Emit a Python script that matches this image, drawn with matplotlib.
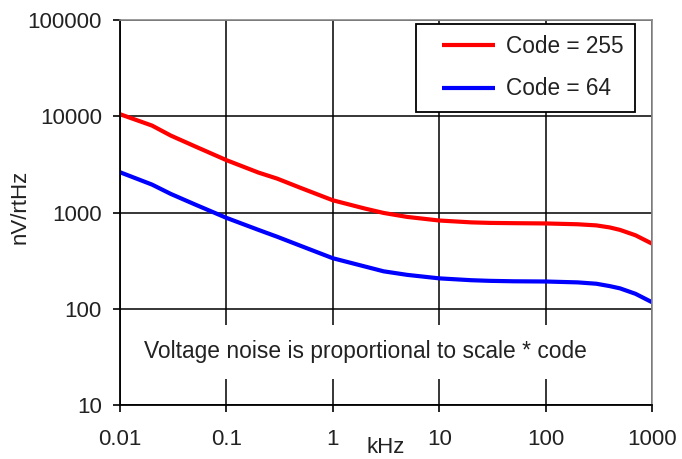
import numpy as np
import matplotlib
matplotlib.use('Agg')
from matplotlib import pyplot as plt
from matplotlib.legend_handler import HandlerLine2D

# valeurs (kHz, nV/rtHz)
freq_khz = [0.01, 0.02, 0.03, 0.05, 0.1, 0.2, 0.3, 0.5, 1, 2, 3, 5, 10, 20, 30, 50, 100, 200, 300, 400, 500, 700, 1000]
noise_255 = [10500, 8000, 6300, 4900, 3500, 2600, 2250, 1800, 1340, 1100, 990, 900, 826, 790, 780, 775, 770, 755, 735, 700, 660, 580, 475]
noise_64 = [2620, 1950, 1560, 1220, 880, 660, 560, 450, 335, 275, 245, 225, 207, 198, 195, 193, 192, 188, 182, 172, 163, 143, 117]

labels = ['Code = 255', 'Code = 64']
colors = ['#ff0000', '#0000ff']
annotation = 'Voltage noise is proportional to scale * code'

plt.rcParams['font.family'] = ['Liberation Sans', 'DejaVu Sans']
txt_col = '#222222'

fig = plt.figure(figsize=(6.82, 4.59), dpi=100)
ax = fig.add_axes([0.176, 0.1176, 0.780, 0.8388])

l1, = ax.plot(freq_khz, noise_255, color=colors[0], lw=3, label=labels[0], solid_capstyle='butt')
l2, = ax.plot(freq_khz, noise_64, color=colors[1], lw=3, label=labels[1], solid_capstyle='butt')

ax.set_xscale('log')
ax.set_yscale('log')
ax.set_xlim(0.01, 1000)
ax.set_ylim(10, 100000)

xt = [0.01, 0.1, 1, 10, 100, 1000]
yt = [10, 100, 1000, 10000, 100000]
ax.set_xticks(xt)
ax.set_xticklabels(['0.01', '0.1', '1', '10', '100', '1000'])
ax.set_yticks(yt)
ax.set_yticklabels([str(v) for v in yt])
ax.minorticks_off()
ax.tick_params(axis='both', direction='out', length=5, width=1.2, color='black',
               labelsize=16, labelcolor=txt_col)
ax.tick_params(axis='x', pad=12)
ax.tick_params(axis='y', pad=8)

ax.grid(True, which='major', color='black', lw=1.1)
ax.set_axisbelow(True)

for s in ['left', 'bottom']:
    ax.spines[s].set_color('black')
    ax.spines[s].set_linewidth(1.3)
for s in ['top', 'right']:
    ax.spines[s].set_color('#8a8a8a')
    ax.spines[s].set_linewidth(1.2)

ax.set_xlabel('kHz', fontsize=16, color=txt_col)
ax.xaxis.set_label_coords(0.5, -0.082)
ax.set_ylabel('nV/rtHz', fontsize=16, color=txt_col)
ax.yaxis.set_label_coords(-0.169, 0.514)

ax.text(0.461, 0.138, annotation, transform=ax.transAxes, ha='center', va='center',
        fontsize=16.4, color=txt_col,
        bbox=dict(facecolor='white', edgecolor='none', pad=11))

# ligne de légende décalée vers la droite comme sur l'original
hmap = {l1: HandlerLine2D(xpad=0.61), l2: HandlerLine2D(xpad=0.61)}
leg = ax.legend(loc='upper right', bbox_to_anchor=(0.968, 0.99), fontsize=16.3,
                fancybox=False, framealpha=1, edgecolor='black',
                handlelength=2.96, handletextpad=0.5, labelspacing=0.85,
                borderpad=0.5, borderaxespad=0, handler_map=hmap)
leg.get_frame().set_linewidth(1.3)
for t in leg.get_texts():
    t.set_color(txt_col)

fig.savefig('out.png', dpi=100)
